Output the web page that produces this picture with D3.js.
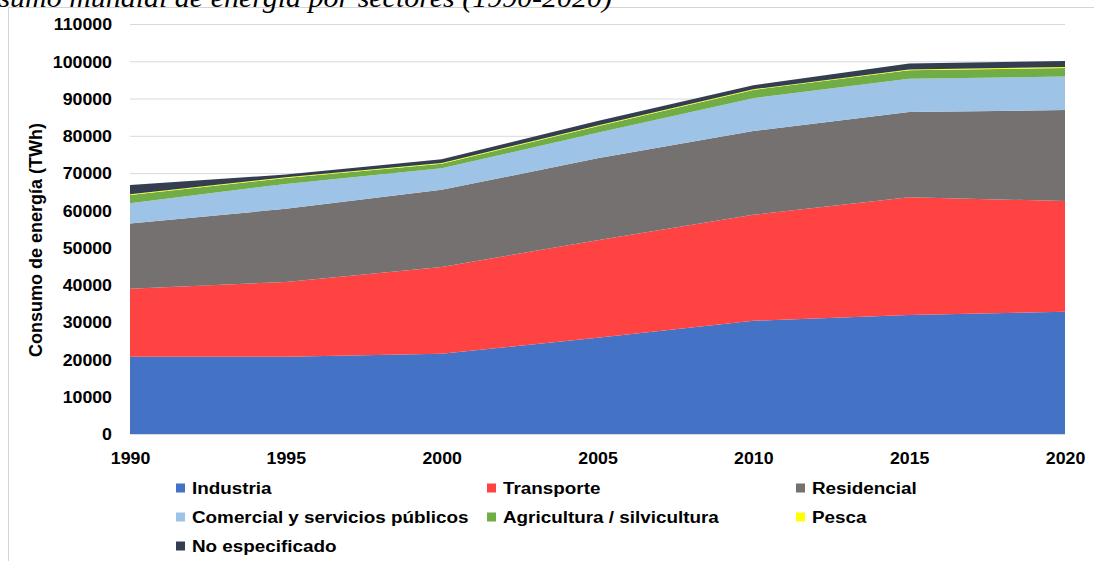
<!DOCTYPE html>
<html>
<head>
<meta charset="utf-8">
<script src="https://cdn.jsdelivr.net/npm/d3@7"></script>
<style>
  html, body { margin: 0; padding: 0; background: #fff; }
  svg { display: block; }
  text { font-family: "Liberation Sans", Arial, sans-serif; font-weight: bold; fill: #000; }
</style>
</head>
<body>
<svg id="chart" width="1094" height="561"></svg>
<script>
// Consumo mundial de energía por sectores, TWh
const years = [1990, 1995, 2000, 2005, 2010, 2015, 2020];
const industria      = [20700, 20700, 21500, 25800, 30400, 31900, 32800];
const transporte     = [18300, 20100, 23300, 26200, 28400, 31600, 29700];
const residencial    = [17500, 19600, 20700, 22000, 22500, 22900, 24400];
const comercial      = [5400, 6700, 5800, 6800, 8800, 8900, 9000];
const agricultura    = [2200, 1600, 1200, 1800, 2200, 2300, 2300];
const pesca          = [200, 200, 200, 200, 200, 200, 250];
const noEspecificado = [2500, 700, 1000, 1200, 1100, 1600, 1600];

const seriesNames = ["Industria", "Transporte", "Residencial",
  "Comercial y servicios públicos", "Agricultura / silvicultura", "Pesca", "No especificado"];
const seriesValues = [industria, transporte, residencial, comercial, agricultura, pesca, noEspecificado];
const seriesColors = ["#4472C4", "#FF4343", "#767171", "#9DC3E6", "#70AD47", "#FFFF00", "#333F50"];
const yTicks = [0, 10000, 20000, 30000, 40000, 50000, 60000, 70000, 80000, 90000, 100000, 110000];

const titleText = "Consumo mundial de energía por sectores (1990-2020)";
const yTitle = "Consumo de energía (TWh)";

const svg = d3.select("#chart");
const W = 1094, H = 561;
const m = { left: 130, right: 29, top: 24, bottom: 127 };
const SX = 1.11; // horizontal text stretch

// rows for the stack
const rows = years.map((yr, i) => {
  const r = { year: yr };
  seriesNames.forEach((n, k) => r[n] = seriesValues[k][i]);
  return r;
});
const stacked = d3.stack().keys(seriesNames)(rows);

const x = d3.scaleLinear().domain([1990, 2020]).range([m.left, W - m.right]);
const y = d3.scaleLinear().domain([0, 110000]).range([H - m.bottom, m.top]);

// frame
svg.append("path")
  .attr("d", `M8.5,${H} V7.5 H${W}`)
  .attr("fill", "none").attr("stroke", "#d4d4d4").attr("stroke-width", 1);

// title, running past the top-left corner of the page
svg.append("text")
  .attr("transform", `translate(612,7) scale(${SX},1)`)
  .attr("text-anchor", "end")
  .style("font-family", "'Liberation Serif', 'Times New Roman', serif")
  .style("font-style", "italic").style("font-weight", "normal")
  .style("font-size", "27px")
  .text(titleText);

// y axis with gridlines
const yAxis = svg.append("g")
  .attr("transform", `translate(${m.left},0)`)
  .call(d3.axisLeft(y).tickValues(yTicks).tickSize(-(W - m.left - m.right)).tickSizeOuter(0).tickFormat(d3.format("d")));
yAxis.select(".domain").remove();
yAxis.selectAll(".tick line").attr("stroke", "#d9d9d9").attr("stroke-width", 1);
yAxis.selectAll(".tick text")
  .attr("x", -18 / SX)
  .attr("dy", "0.36em")
  .attr("transform", `scale(${SX},1)`)
  .style("font-size", "16px");

// areas
const area = d3.area()
  .x(d => x(d.data.year))
  .y0(d => y(d[0]))
  .y1(d => y(d[1]));

svg.append("g").selectAll("path")
  .data(stacked)
  .join("path")
  .attr("d", area)
  .attr("fill", (d, i) => seriesColors[i]);

// x axis
const xAxis = svg.append("g")
  .attr("transform", `translate(0,${H - m.bottom})`)
  .call(d3.axisBottom(x).tickValues(years).tickSize(0).tickFormat(d3.format("d")));
xAxis.select(".domain").remove();
xAxis.selectAll(".tick text")
  .attr("y", 0)
  .attr("dy", "1.85em")
  .attr("x", 0)
  .attr("transform", `scale(${SX},1)`)
  .style("font-size", "16px");

// y title
svg.append("text")
  .attr("transform", `translate(42,${240}) rotate(-90)`)
  .attr("text-anchor", "middle")
  .style("font-size", "18px")
  .text(yTitle);

// legend: three columns
const legCols = [176, 487, 796];
const legRows = [488, 517, 546];
const leg = svg.append("g");
seriesNames.forEach((n, i) => {
  const cx = legCols[i % 3], cy = legRows[Math.floor(i / 3)];
  leg.append("rect")
    .attr("x", cx).attr("y", cy - 4.5)
    .attr("width", 9).attr("height", 9)
    .attr("fill", seriesColors[i]);
  leg.append("text")
    .attr("transform", `translate(${cx + 16},${cy}) scale(${SX},1)`)
    .attr("dy", "0.36em")
    .style("font-size", "17px")
    .text(n);
});
</script>
</body>
</html>
